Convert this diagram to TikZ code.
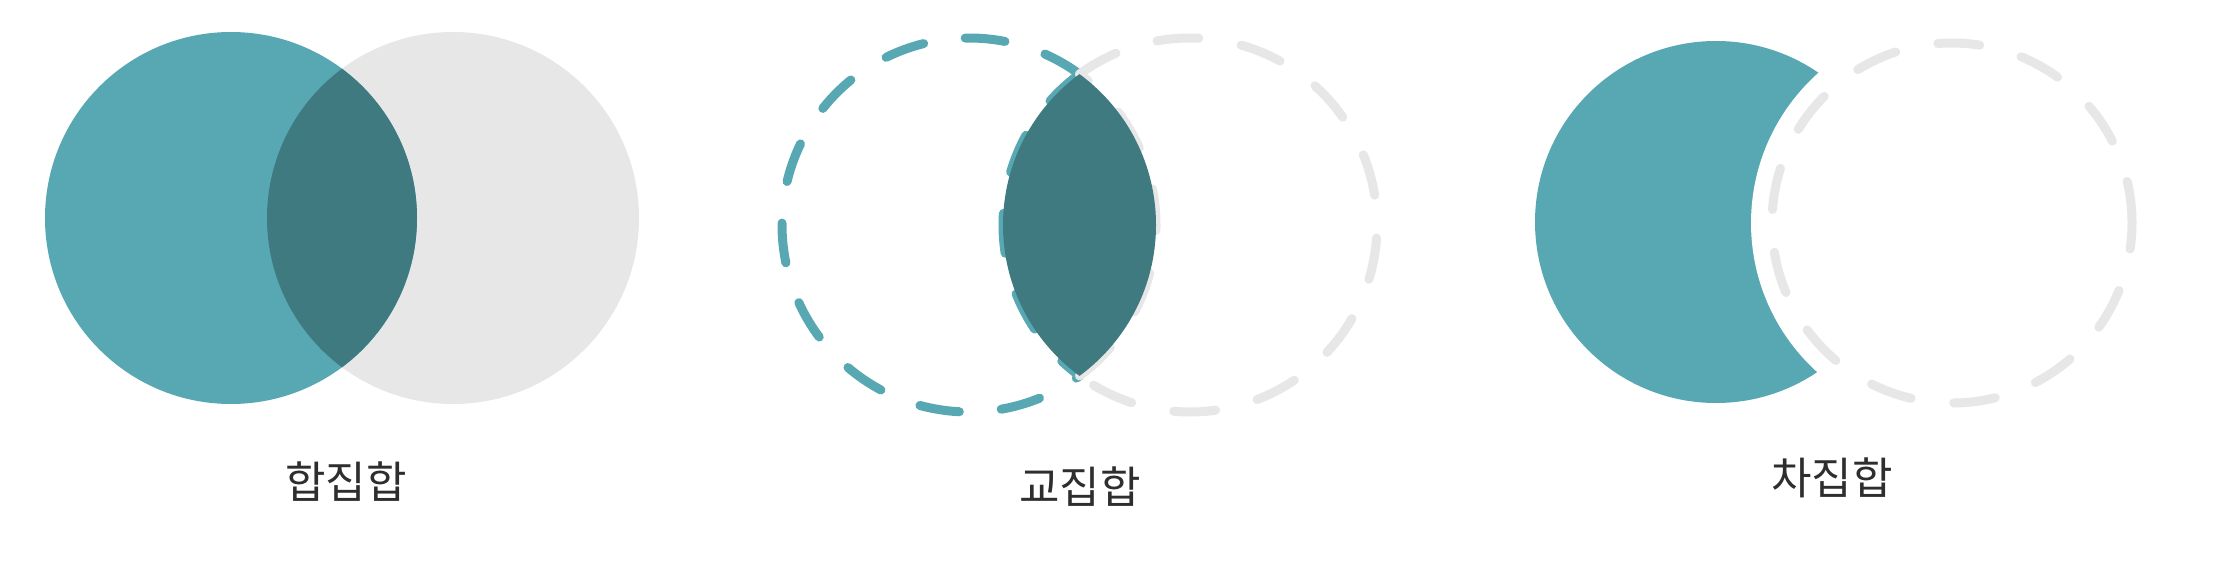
\documentclass[tikz,border=0pt]{standalone}
\usepackage{fontspec}
\newfontfamily\kr{Noto Sans CJK KR}
\definecolor{teal1}{HTML}{57A8B3}
\definecolor{darkt}{HTML}{3F7A80}
\definecolor{lgray}{HTML}{E7E7E7}
\definecolor{txt}{HTML}{2E2E2E}
\begin{document}
\begin{tikzpicture}[x=1pt,y=1pt,
  tdash/.style={draw=teal1, line width=9pt, line cap=round, dash pattern=on 40pt off 42pt},
  gdash/.style={draw=lgray, line width=9pt, line cap=round, dash pattern=on 42pt off 43pt},
  lbl/.style={font=\kr\fontsize{44}{50}\selectfont, text=txt, inner sep=0pt, anchor=base}]
\useasboundingbox[fill=white] (0,0) rectangle (2214,566);

% ---- panel 1: union
\coordinate (a1) at (231,348);
\coordinate (b1) at (453,348);
\fill[lgray] (b1) circle[radius=186];
\fill[teal1] (a1) circle[radius=186];
\begin{scope}
  \clip (a1) circle[radius=186];
  \fill[darkt] (b1) circle[radius=186];
\end{scope}
\node[lbl] (l1) at (346,68) {합집합};

% ---- panel 2: intersection
\coordinate (a2) at (969,341);
\coordinate (b2) at (1190,341);
\draw[tdash] (a2) ++(53.8:187) arc[start angle=53.8, end angle=306.2, radius=187];
\draw[tdash] (b2) ++(126.2:187) arc[start angle=126.2, end angle=233.8, radius=187];
\draw[gdash] (b2) ++(126.2:187) arc[start angle=126.2, end angle=-126.2, radius=187];
\draw[gdash] (a2) ++(-53.8:187) arc[start angle=-53.8, end angle=53.8, radius=187];
\begin{scope}
  \clip (a2) circle[radius=187];
  \fill[darkt] (b2) circle[radius=187];
\end{scope}
\node[lbl] (l2) at (1080,63) {교집합};

% ---- panel 3: difference
\coordinate (a3) at (1716,344);
\coordinate (b3) at (1952,343);
\fill[teal1] (a3) circle[radius=181];
\fill[white] (b3) circle[radius=201];
\draw[gdash] (b3) circle[radius=180];
\node[lbl] (l3) at (1832,72) {차집합};
\end{tikzpicture}
\end{document}
